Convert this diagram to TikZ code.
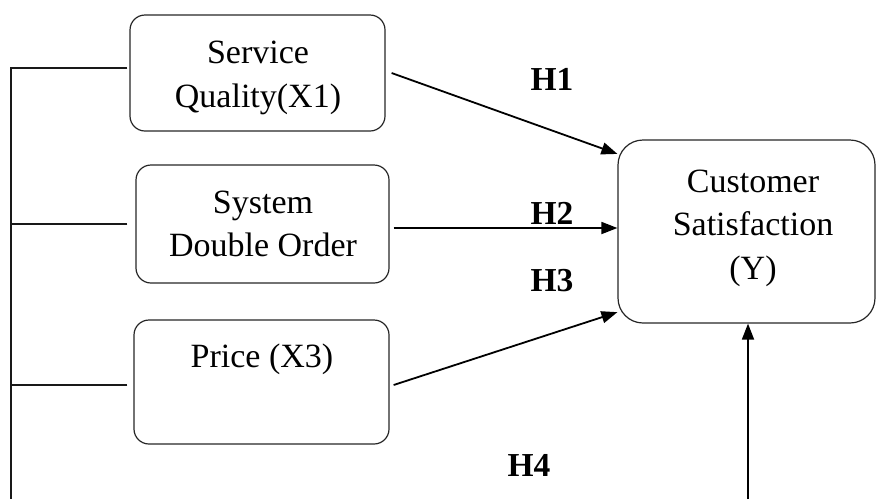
\documentclass[tikz,border=0pt]{standalone}
\usepackage{fontspec}
\setmainfont{Liberation Serif}
\usetikzlibrary{arrows.meta,calc}
\begin{document}
\begin{tikzpicture}[x=1pt,y=-1pt,
  box/.style={draw=black!85, line width=1.2pt, rounded corners=15pt, inner sep=0pt},
  txt/.style={font=\fontsize{34}{43}\selectfont, anchor=base, inner sep=0pt},
  hyp/.style={font=\fontsize{33.5}{38}\selectfont\bfseries, inner sep=0pt},
  link/.style={line width=1.4pt, black!90},
  arr/.style={line width=1.8pt, -{Triangle[length=16pt,width=12pt]}}]
\useasboundingbox (0,0) rectangle (877,499);

% variable boxes
\node[box, minimum width=255pt, minimum height=116pt] (x1) at (257.5,73) {};
\node[box, minimum width=253pt, minimum height=118pt] (x2) at (262.5,224) {};
\node[box, minimum width=255pt, minimum height=124pt] (x3) at (261.5,382) {};
\node[box, rounded corners=25pt, minimum width=257pt, minimum height=183pt] (y) at (746.5,231.5) {};

% box texts
\node[txt] (x1a) at (258,63) {Service};
\node[txt] (x1b) at (258,107) {Quality(X1)};
\node[txt] (x2a) at (263,213) {System};
\node[txt] (x2b) at (263,256) {Double Order};
\node[txt] (x3a) at (262,367) {Price (X3)};
\node[txt] (ya) at (753,192) {Customer};
\node[txt] (yb) at (753,235) {Satisfaction};
\node[txt] (yc) at (753,279) {(Y)};

% hypothesis labels
\node[hyp] (h1) at (552,79) {H1};
\node[hyp] (h2) at (552,213) {H2};
\node[hyp] (h3) at (552,281) {H3};
\node[hyp] (h4) at (529,465) {H4};

% left spine joining the three boxes
\coordinate (spine) at (11,499);
\coordinate (l1) at ($(x1.west)+(-2,-5)$);
\coordinate (l2) at ($(x2.west)+(-8,0)$);
\coordinate (l3) at ($(x3.west)+(-6,3)$);
\draw[link] (l1) -| (spine);
\draw[link] (l2) -- (l2 -| spine);
\draw[link] (l3) -- (l3 -| spine);

% hypothesis arrows
\coordinate (s1) at ($(x1.east)+(6,0)$);
\coordinate (s2) at ($(x2.east)+(4,4)$);
\coordinate (s3) at ($(x3.east)+(4,3)$);
\coordinate (s4) at (748,499);
\draw[arr] (s1) -- (y.149);
\draw[arr] (s2) -- (s2 -| y.west);
\draw[arr] (s3) -- (y.212);
\draw[arr] (s4) -- (s4 |- y.south);
\end{tikzpicture}
\end{document}
